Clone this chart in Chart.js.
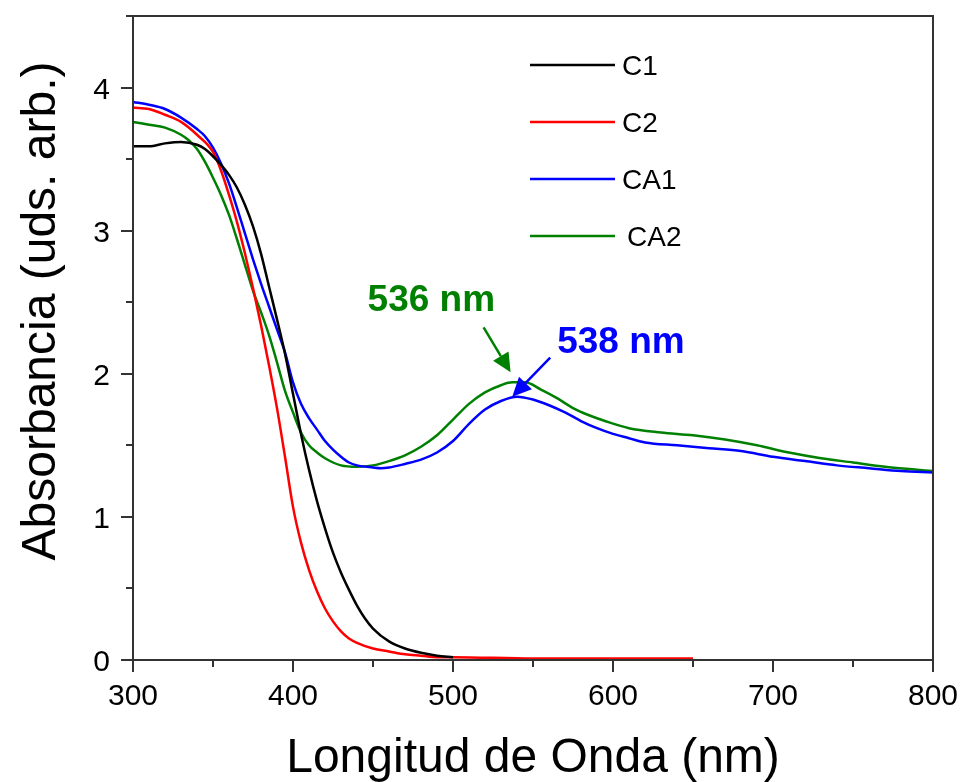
<!DOCTYPE html>
<html>
<head>
<meta charset="utf-8">
<script src="https://cdn.jsdelivr.net/npm/chart.js@4.4.1/dist/chart.umd.min.js"></script>
<style>
  html, body { margin: 0; padding: 0; background: #fff; }
  #wrap { width: 963px; height: 782px; }
</style>
</head>
<body>
<div id="wrap"><canvas id="chart" width="963" height="782"></canvas></div>
<script>
// wavelengths (nm) and absorbance
const c1Wl  = [300, 310, 320, 330, 340, 345, 350, 355, 360, 365, 370, 375, 380, 385, 390, 395, 400, 405, 410, 415, 420, 425, 430, 435, 440, 445, 450, 460, 470, 480, 490, 500];
const c1Abs = [3.59, 3.59, 3.61, 3.62, 3.60, 3.57, 3.52, 3.46, 3.39, 3.30, 3.18, 3.03, 2.84, 2.61, 2.38, 2.14, 1.86, 1.58, 1.33, 1.11, 0.92, 0.75, 0.61, 0.49, 0.38, 0.29, 0.22, 0.13, 0.08, 0.05, 0.03, 0.02];

const c2Wl  = [300, 310, 320, 330, 340, 350, 355, 360, 365, 370, 375, 380, 385, 390, 395, 400, 405, 410, 415, 420, 425, 430, 435, 440, 450, 460, 470, 480, 490, 500, 550, 600, 650];
const c2Abs = [3.86, 3.85, 3.81, 3.76, 3.67, 3.55, 3.42, 3.25, 3.06, 2.84, 2.60, 2.34, 2.06, 1.76, 1.42, 1.07, 0.82, 0.63, 0.48, 0.36, 0.27, 0.20, 0.15, 0.12, 0.08, 0.06, 0.04, 0.03, 0.02, 0.02, 0.01, 0.01, 0.01];

const ca1Wl  = [300, 310, 320, 330, 340, 345, 350, 355, 360, 365, 370, 375, 380, 385, 390, 395, 400, 405, 410, 415, 420, 425, 430, 435, 440, 450, 455, 460, 470, 480, 490, 500, 510, 520, 530, 540, 550, 560, 570, 580, 590, 600, 610, 620, 640, 660, 680, 700, 720, 740, 760, 780, 800];
const ca1Abs = [3.90, 3.88, 3.85, 3.79, 3.71, 3.66, 3.58, 3.47, 3.33, 3.16, 2.98, 2.80, 2.63, 2.47, 2.31, 2.15, 1.94, 1.79, 1.69, 1.61, 1.53, 1.47, 1.42, 1.38, 1.36, 1.345, 1.34, 1.345, 1.37, 1.40, 1.45, 1.53, 1.65, 1.75, 1.81, 1.84, 1.82, 1.78, 1.73, 1.67, 1.62, 1.58, 1.55, 1.52, 1.50, 1.48, 1.46, 1.42, 1.39, 1.36, 1.34, 1.32, 1.31];

const ca2Wl  = [300, 310, 320, 330, 335, 340, 345, 350, 355, 360, 365, 370, 375, 380, 385, 390, 395, 400, 405, 410, 415, 420, 430, 440, 450, 460, 470, 480, 490, 500, 510, 520, 530, 537, 545, 555, 565, 575, 585, 595, 610, 630, 650, 670, 690, 710, 730, 750, 770, 790, 800];
const ca2Abs = [3.76, 3.74, 3.72, 3.67, 3.63, 3.57, 3.48, 3.37, 3.25, 3.11, 2.94, 2.76, 2.58, 2.43, 2.27, 2.08, 1.88, 1.73, 1.59, 1.50, 1.45, 1.41, 1.36, 1.35, 1.36, 1.39, 1.43, 1.49, 1.57, 1.68, 1.79, 1.87, 1.92, 1.94, 1.94, 1.89, 1.83, 1.76, 1.71, 1.67, 1.62, 1.59, 1.57, 1.54, 1.50, 1.45, 1.41, 1.38, 1.35, 1.33, 1.32];

const seriesNames = ['C1', 'C2', 'CA1', 'CA2'];
const seriesColors = ['#000000', '#ff0000', '#0000ff', '#008000'];

const xTicks = [300, 400, 500, 600, 700, 800];
const yTicks = [0, 1, 2, 3, 4];

// peak markers: [wavelength, absorbance, label]
const peakCA2 = [536, 2.01, '536 nm'];
const peakCA1 = [537, 1.84, '538 nm'];

const FONT = "'Liberation Sans', Arial, sans-serif";

function toPoints(wl, abs) {
    return wl.map((w, i) => ({ x: w, y: abs[i] }));
}

function drawArrow(ctx, x1, y1, x2, y2, color) {
    const ang = Math.atan2(y2 - y1, x2 - x1);
    const head = 19, half = 9;
    const bx = x2 - head * Math.cos(ang), by = y2 - head * Math.sin(ang);
    ctx.save();
    ctx.strokeStyle = color;
    ctx.fillStyle = color;
    ctx.lineWidth = 2.5;
    ctx.beginPath();
    ctx.moveTo(x1, y1);
    ctx.lineTo(bx, by);
    ctx.stroke();
    ctx.beginPath();
    ctx.moveTo(x2, y2);
    ctx.lineTo(bx + half * Math.sin(ang), by - half * Math.cos(ang));
    ctx.lineTo(bx - half * Math.sin(ang), by + half * Math.cos(ang));
    ctx.closePath();
    ctx.fill();
    ctx.restore();
}

const decorPlugin = {
    id: 'decor',
    afterDraw(chart) {
        const ctx = chart.ctx;
        const a = chart.chartArea;
        const xs = chart.scales.x, ys = chart.scales.y;
        ctx.save();

        // frame
        ctx.strokeStyle = '#333';
        ctx.lineWidth = 2;
        ctx.strokeRect(a.left, a.top, a.right - a.left, a.bottom - a.top);

        // ticks, major and minor, outward
        ctx.beginPath();
        for (let v = 300; v <= 800; v += 50) {
            const px = Math.round(xs.getPixelForValue(v));
            const len = v % 100 === 0 ? 12 : 7;
            ctx.moveTo(px, a.bottom);
            ctx.lineTo(px, a.bottom + len);
        }
        for (let v = 0; v <= 4.5; v += 0.5) {
            const py = Math.round(ys.getPixelForValue(v));
            const len = v % 1 === 0 ? 12 : 7;
            ctx.moveTo(a.left, py);
            ctx.lineTo(a.left - len, py);
        }
        ctx.stroke();

        // tick labels
        ctx.fillStyle = '#000';
        ctx.font = '30px ' + FONT;
        ctx.textBaseline = 'alphabetic';
        ctx.textAlign = 'center';
        xTicks.forEach(v => ctx.fillText(String(v), xs.getPixelForValue(v), 705));
        ctx.textAlign = 'right';
        yTicks.forEach(v => ctx.fillText(String(v), 110, ys.getPixelForValue(v) + 11));

        // axis titles
        ctx.font = '48px ' + FONT;
        ctx.textAlign = 'center';
        ctx.fillText('Longitud de Onda (nm)', (a.left + a.right) / 2, 772);
        ctx.save();
        ctx.translate(55, 311);
        ctx.rotate(-Math.PI / 2);
        ctx.fillText('Absorbancia (uds. arb.)', 0, 0);
        ctx.restore();

        // legend
        const legY = [65, 122, 179, 236];
        ctx.font = '28px ' + FONT;
        ctx.textAlign = 'left';
        ctx.textBaseline = 'middle';
        seriesNames.forEach((name, i) => {
            ctx.strokeStyle = seriesColors[i];
            ctx.lineWidth = 2.5;
            ctx.beginPath();
            ctx.moveTo(530, legY[i]);
            ctx.lineTo(615, legY[i]);
            ctx.stroke();
            ctx.fillStyle = '#000';
            ctx.fillText(name, i === 3 ? 627 : 622, legY[i] + 2);
        });

        // peak annotations
        ctx.font = 'bold 37px ' + FONT;
        ctx.textBaseline = 'alphabetic';
        const gx = xs.getPixelForValue(peakCA2[0]), gy = ys.getPixelForValue(peakCA2[1]);
        drawArrow(ctx, gx - 27, gy - 45, gx, gy, '#008000');
        ctx.fillStyle = '#008000';
        ctx.fillText(peakCA2[2], gx - 143, gy - 61);

        const bx = xs.getPixelForValue(peakCA1[0]), by = ys.getPixelForValue(peakCA1[1]);
        drawArrow(ctx, bx + 38, by - 39, bx, by, '#0000ff');
        ctx.fillStyle = '#0000ff';
        ctx.fillText(peakCA1[2], bx + 45, by - 44);

        ctx.restore();
    }
};

const datasets = [
    toPoints(c1Wl, c1Abs),
    toPoints(c2Wl, c2Abs),
    toPoints(ca1Wl, ca1Abs),
    toPoints(ca2Wl, ca2Abs)
].map((pts, i) => ({
    label: seriesNames[i],
    data: pts,
    borderColor: seriesColors[i],
    borderWidth: 2.5,
    pointRadius: 0,
    fill: false,
    cubicInterpolationMode: 'monotone'
}));

new Chart(document.getElementById('chart').getContext('2d'), {
    type: 'line',
    data: { datasets },
    plugins: [decorPlugin],
    options: {
        responsive: false,
        animation: false,
        events: [],
        layout: { padding: { top: 16, right: 30, left: 0, bottom: 0 } },
        plugins: {
            legend: { display: false },
            tooltip: { enabled: false }
        },
        scales: {
            x: {
                type: 'linear',
                min: 300,
                max: 800,
                afterFit: s => { s.height = 122; },
                grid: { display: false, drawTicks: false },
                border: { display: false },
                ticks: { display: false }
            },
            y: {
                type: 'linear',
                min: 0,
                max: 4.5,
                afterFit: s => { s.width = 133; },
                grid: { display: false, drawTicks: false },
                border: { display: false },
                ticks: { display: false }
            }
        }
    }
});
</script>
</body>
</html>
